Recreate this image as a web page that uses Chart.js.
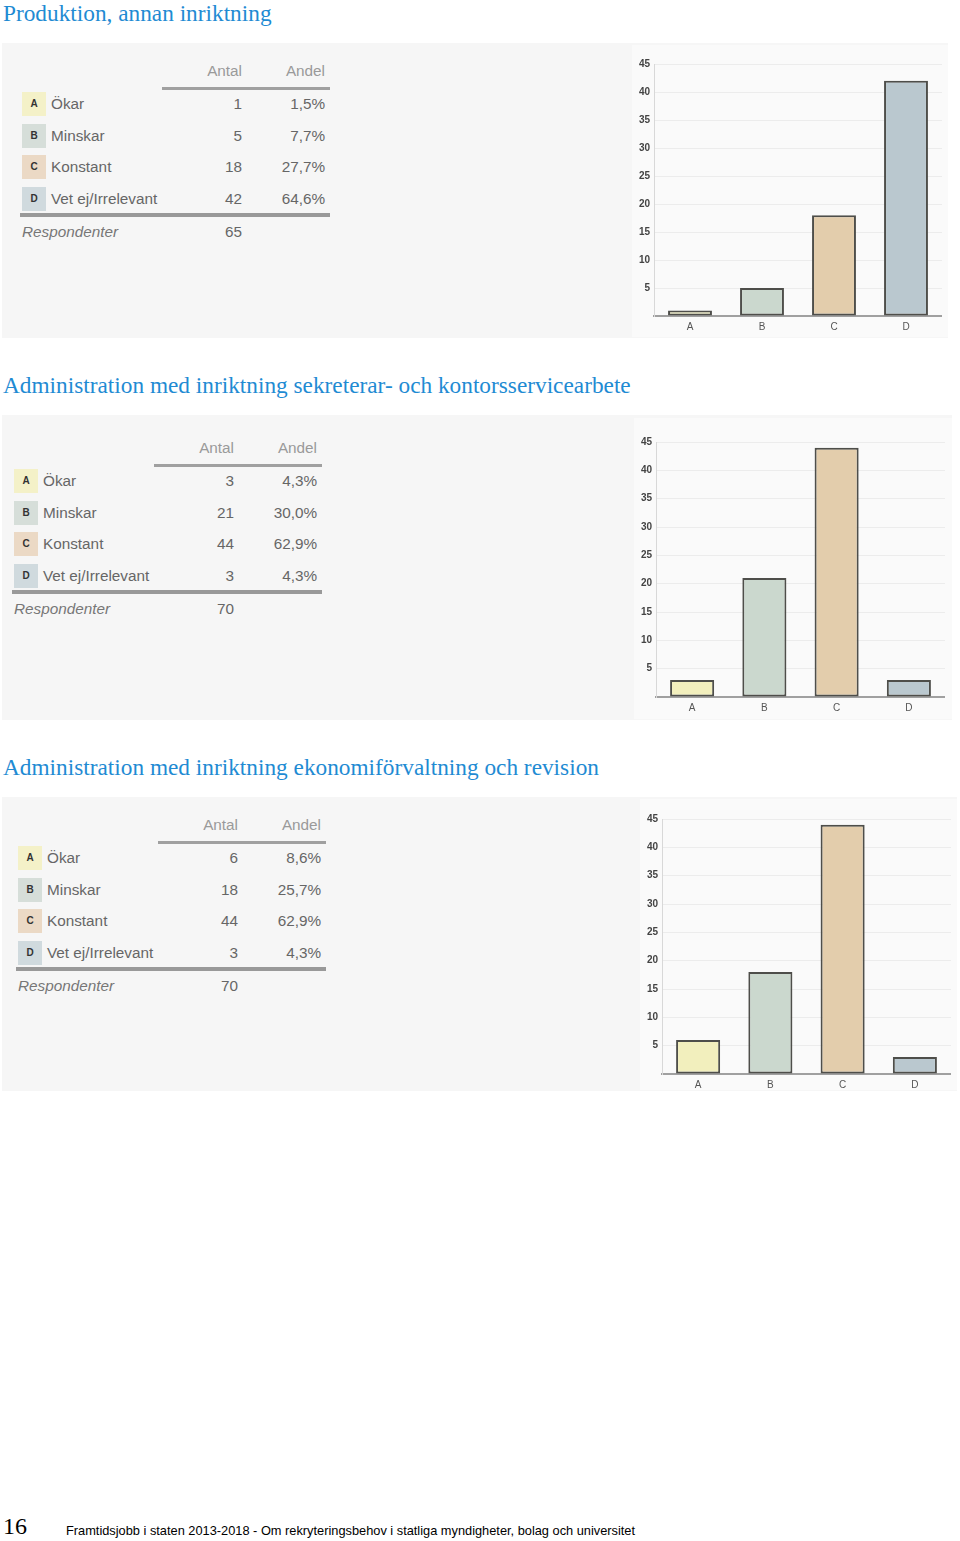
<!DOCTYPE html>
<html lang="sv">
<head>
  <meta charset="UTF-8">
  <title>Framtidsjobb i staten 2013-2018</title>
  <script src="https://cdn.jsdelivr.net/npm/chart.js"></script>
  <style>
    * {
      margin: 0;
      padding: 0;
      box-sizing: border-box;
    }

    body {
      width: 960px;
      height: 1541px;
      position: relative;
      background: #fff;
      font-family: 'Liberation Sans', Arial, sans-serif;
      overflow: hidden;
    }

    .title {
      position: absolute;
      left: 3px;
      font-family: 'Liberation Serif', 'Times New Roman', serif;
      font-size: 23.3px;
      color: #1f8bd3;
      white-space: nowrap;
    }

    .panel {
      position: absolute;
      left: 2px;
      background: #f6f6f6;
    }

    .chartbox {
      position: absolute;
      background: #fafafa;
    }

    .t {
      position: absolute;
      font-size: 15.3px;
      color: #666;
      line-height: 18px;
      white-space: nowrap;
    }

    .t.head { color: #9a9a9a; }
    .t.resp { font-style: italic; color: #777; }

    .badge {
      position: absolute;
      width: 24px;
      height: 24px;
      font-size: 10px;
      font-weight: bold;
      color: #333;
      text-align: center;
      line-height: 24px;
    }

    .rule {
      position: absolute;
      background: #a0a0a0;
    }

    #pageno {
      position: absolute;
      left: 3px;
      top: 1513px;
      font-family: 'Liberation Serif', 'Times New Roman', serif;
      font-size: 24px;
      color: #000;
    }

    #footer {
      position: absolute;
      left: 66px;
      top: 1523px;
      font-family: 'Liberation Sans', Arial, sans-serif;
      font-size: 12.8px;
      color: #000;
    }
  </style>
</head>
<body>
  <div class="title" style="top:0px">Produktion, annan inriktning</div>
  <div class="panel" style="top:43px;width:946px;height:295px"></div>
  <div class="chartbox" style="left:632px;top:45px;width:316px;height:292px"></div>
  <canvas id="chart1" style="position:absolute;left:630px;top:50px"></canvas>

  <div class="title" style="top:372px">Administration med inriktning sekreterar- och kontorsservicearbete</div>
  <div class="panel" style="top:415px;width:950px;height:305px"></div>
  <div class="chartbox" style="left:634px;top:418px;width:318px;height:301px"></div>
  <canvas id="chart2" style="position:absolute;left:632px;top:428px"></canvas>

  <div class="title" style="top:754px">Administration med inriktning ekonomiförvaltning och revision</div>
  <div class="panel" style="top:797px;width:955px;height:294px"></div>
  <div class="chartbox" style="left:640px;top:799px;width:317px;height:291px"></div>
  <canvas id="chart3" style="position:absolute;left:638px;top:805px"></canvas>

  <div id="pageno">16</div>
  <div id="footer">Framtidsjobb i staten 2013-2018 - Om rekryteringsbehov i statliga myndigheter, bolag och universitet</div>

  <script>
    const categories = ['A', 'B', 'C', 'D'];
    const answers = ['Ökar', 'Minskar', 'Konstant', 'Vet ej/Irrelevant'];

    const counts1 = [1, 5, 18, 42];
    const shares1 = ['1,5%', '7,7%', '27,7%', '64,6%'];
    const respondents1 = 65;

    const counts2 = [3, 21, 44, 3];
    const shares2 = ['4,3%', '30,0%', '62,9%', '4,3%'];
    const respondents2 = 70;

    const counts3 = [6, 18, 44, 3];
    const shares3 = ['8,6%', '25,7%', '62,9%', '4,3%'];
    const respondents3 = 70;

    const yTicks = [0, 5, 10, 15, 20, 25, 30, 35, 40, 45];

    const fills = ['#f2efbd', '#cbd8ce', '#e3cdac', '#bac8cf'];
    const badgeFills = ['#f4f1c8', '#d6ded9', '#ebd9c5', '#d0dade'];

    // table on the left, placed from its header position
    function buildTable(x0, y0, counts, shares, resp) {
      const add = (cls, text, style) => {
        const d = document.createElement('div');
        d.className = cls;
        d.textContent = text;
        d.setAttribute('style', style);
        document.body.appendChild(d);
      };
      add('t head', 'Antal', `right:${960 - (x0 + 220)}px;top:${y0 - 9}px`);
      add('t head', 'Andel', `right:${960 - (x0 + 303)}px;top:${y0 - 9}px`);
      add('rule', '', `left:${x0 + 140}px;top:${y0 + 16}px;width:168px;height:3px`);
      const rowY = [33, 65, 96, 128];
      categories.forEach((c, i) => {
        const y = y0 + rowY[i];
        add('badge', c, `left:${x0}px;top:${y - 12}px;background:${badgeFills[i]}`);
        add('t', answers[i], `left:${x0 + 29}px;top:${y - 9}px`);
        add('t', String(counts[i]), `right:${960 - (x0 + 220)}px;top:${y - 9}px`);
        add('t', shares[i], `right:${960 - (x0 + 303)}px;top:${y - 9}px`);
      });
      add('rule', '', `left:${x0 - 2}px;top:${y0 + 142}px;width:310px;height:4px;background:#999`);
      add('t resp', 'Respondenter', `left:${x0}px;top:${y0 + 152}px`);
      add('t', String(resp), `right:${960 - (x0 + 220)}px;top:${y0 + 152}px`);
    }

    buildTable(22, 71, counts1, shares1, respondents1);
    buildTable(14, 448, counts2, shares2, respondents2);
    buildTable(18, 825, counts3, shares3, respondents3);

    function makeChart(id, values, width, height) {
      const canvas = document.getElementById(id);
      canvas.width = width;
      canvas.height = height;
      canvas.style.width = width + 'px';
      canvas.style.height = height + 'px';
      return new Chart(canvas.getContext('2d'), {
        type: 'bar',
        data: {
          labels: categories,
          datasets: [{
            data: values,
            backgroundColor: fills,
            borderColor: '#4e4e4a',
            borderWidth: 2,
            borderSkipped: false,
            barPercentage: 0.61,
            categoryPercentage: 1
          }]
        },
        options: {
          responsive: false,
          animation: false,
          layout: { padding: { top: 14, right: 0, bottom: 0, left: 0 } },
          plugins: { legend: { display: false }, tooltip: { enabled: false } },
          scales: {
            x: {
              afterFit: s => { s.height = 20; },
              grid: { color: 'rgba(0,0,0,0)', drawTicks: false },
              border: { display: true, color: '#a0a0a0', width: 2 },
              ticks: { padding: 5, color: '#555', font: { family: 'Liberation Sans', size: 10 } }
            },
            y: {
              min: 0,
              max: 45,
              afterFit: s => { s.width = 24; },
              afterBuildTicks: s => { s.ticks = yTicks.map(v => ({ value: v })); },
              grid: { color: '#ececec', drawTicks: false },
              border: { display: true, color: '#d8d8d8', width: 1 },
              ticks: {
                padding: 4,
                color: '#444',
                font: { family: 'Liberation Sans', size: 10, weight: 'bold' },
                callback: v => v === 0 ? '' : v
              }
            }
          }
        }
      });
    }

    makeChart('chart1', counts1, 312, 286);
    makeChart('chart2', counts2, 313, 289);
    makeChart('chart3', counts3, 313, 289);
  </script>
</body>
</html>
